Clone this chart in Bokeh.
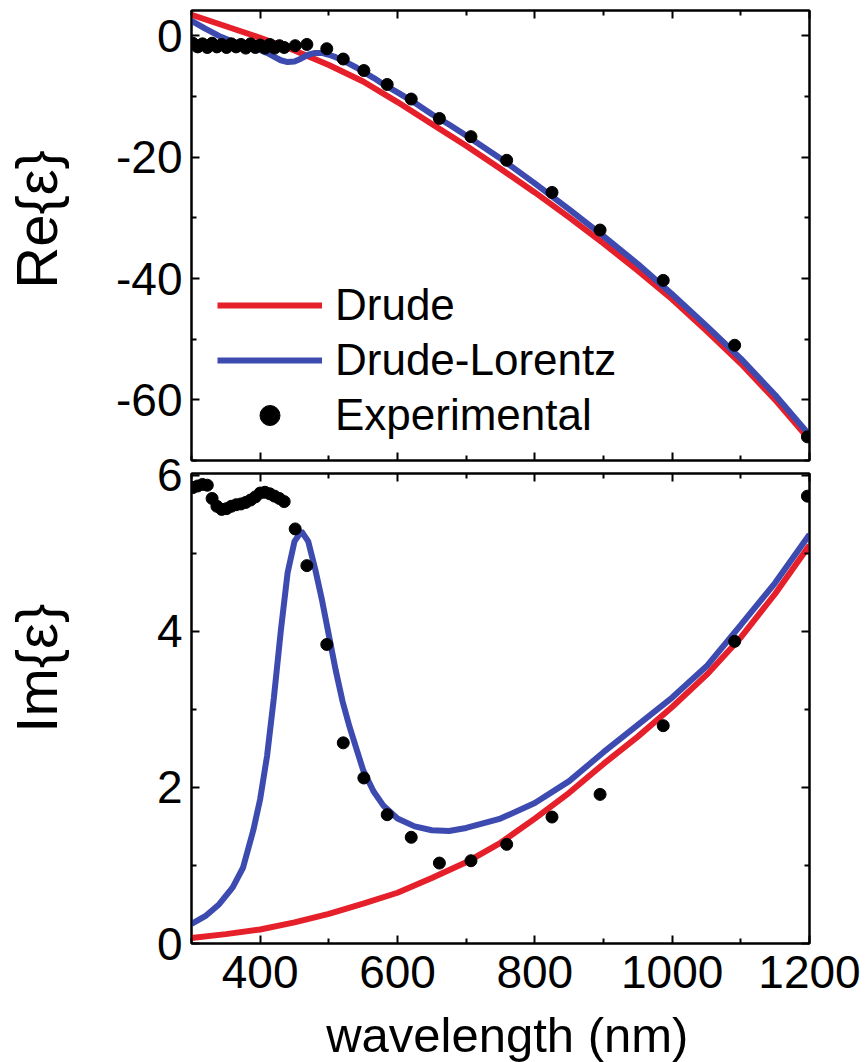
from bokeh.plotting import figure
from bokeh.layouts import column
from bokeh.models import (LinearAxis, Range1d, Legend, LegendItem, FixedTicker,
                          CustomLabelingPolicy)
from bokeh.embed import file_html
from bokeh.resources import INLINE

# ---------------- data ----------------
# Drude model
wl_drude = [300, 350, 400, 450, 500, 550, 600, 650, 700, 750, 800,
            850, 900, 950, 1000, 1050, 1100, 1150, 1200]
re_drude = [3.5, 1.6, -0.3, -2.4, -4.8, -7.5, -10.9, -14.5, -18.1, -21.9, -25.8,
            -29.9, -34.2, -38.7, -43.4, -48.6, -54.0, -60.0, -66.6]
im_drude = [0.07, 0.12, 0.18, 0.27, 0.38, 0.51, 0.65, 0.84, 1.04, 1.29, 1.60,
            1.93, 2.30, 2.65, 3.03, 3.44, 3.92, 4.48, 5.10]

# Drude-Lorentz model
wl_dl = [300, 320, 340, 360, 375, 390, 400, 410, 420, 430, 440, 450, 460, 470,
         480, 490, 500, 510, 520, 530, 540, 550, 565, 580, 600, 625, 650, 675,
         700, 750, 800, 850, 900, 950, 1000, 1050, 1100, 1150, 1200]
re_dl = [2.5, 1.2, 0.0, -0.9, -1.4, -1.9, -2.3, -2.8, -3.4, -4.0, -4.3, -4.2, -3.7, -3.1,
         -2.8, -2.8, -3.1, -3.5, -4.0, -4.6, -5.2, -5.9, -6.9, -8.0, -9.3, -11.0, -12.9, -14.6,
         -16.4, -20.2, -24.3, -28.6, -33.0, -37.6, -42.6, -47.8, -53.2, -59.2, -65.8]
im_dl = [0.25, 0.35, 0.50, 0.72, 0.97, 1.45, 1.85, 2.40, 3.15, 4.00, 4.75, 5.15, 5.28, 5.15,
         4.80, 4.40, 3.95, 3.50, 3.10, 2.78, 2.50, 2.22, 1.95, 1.76, 1.60, 1.50, 1.45, 1.44,
         1.48, 1.60, 1.80, 2.08, 2.45, 2.80, 3.15, 3.55, 4.08, 4.62, 5.24]

# Experimental
wl_exp = [302, 309, 316, 323, 330, 337, 344, 351, 358, 365, 372, 379, 386, 393,
          400, 407, 414, 421, 428, 435, 451, 468, 497, 521, 551, 585, 620, 661,
          707, 759, 825, 895, 987, 1091, 1197]
re_exp = [-1.2, -1.8, -1.3, -1.9, -1.2, -1.8, -1.4, -1.9, -1.3, -1.8, -1.4, -2.0, -1.3, -1.9,
          -1.5, -2.0, -1.4, -2.0, -1.6, -1.9, -1.6, -1.4, -2.1, -3.8, -5.7, -8.0, -10.4, -13.6,
          -16.6, -20.5, -25.8, -32.0, -40.3, -51.0, -66.1]
im_exp = [5.84, 5.86, 5.88, 5.87, 5.70, 5.60, 5.56, 5.57, 5.60, 5.62, 5.63, 5.65, 5.68, 5.72,
          5.77, 5.78, 5.76, 5.73, 5.70, 5.66, 5.31, 4.84, 3.83, 2.57, 2.12, 1.65, 1.36, 1.03,
          1.06, 1.27, 1.62, 1.91, 2.79, 3.87, 5.73]

x_major = [400, 600, 800, 1000, 1200]
x_minor = [300, 500, 700, 900, 1100]
re_major = [-60, -40, -20, 0]
re_minor = [-70, -50, -30, -10]
im_major = [0, 2, 4, 6]
im_minor = [1, 3, 5]

# ---------------- styling ----------------
FONT = "Liberation Sans"
RED = "#E5202B"
BLUE = "#3D4BB0"
LW = 6
MS = 12
TICK_FS = "46px"
YLAB_FS = "58px"
NB = "\u00a0"   # non-breaking space used to nudge the axis titles

HIDE_CODE = "for (const i of indices) { indices.unset(i) }\nreturn indices"


def style_axis(ax, major, minor, labels=True, standoff=9):
    ax.ticker = FixedTicker(ticks=major, minor_ticks=minor)
    ax.axis_line_color = "black"
    ax.axis_line_width = 2
    ax.major_tick_line_color = "black"
    ax.major_tick_line_width = 2
    ax.minor_tick_line_color = "black"
    ax.minor_tick_line_width = 2
    ax.major_tick_in = 8
    ax.major_tick_out = 0
    ax.minor_tick_in = 5
    ax.minor_tick_out = 0
    ax.major_label_text_font = FONT
    ax.major_label_text_color = "black"
    ax.axis_label_text_font = FONT
    ax.axis_label_text_font_style = "normal"
    ax.axis_label_text_color = "black"
    if labels:
        ax.major_label_text_font_size = TICK_FS
        ax.major_label_standoff = standoff
        ax.major_label_overrides = {t: str(t) for t in major}
    else:
        ax.major_label_text_font_size = "1px"
        ax.major_label_standoff = 0
        ax.major_label_policy = CustomLabelingPolicy(code=HIDE_CODE)


def make_fig(height, yr, top, bottom, **kw):
    p = figure(frame_width=618, frame_height=height,
               x_range=Range1d(300, 1200), y_range=yr,
               output_backend="svg", toolbar_location=None,
               min_border_left=191, min_border_right=56,
               min_border_top=top, min_border_bottom=bottom, **kw)
    p.xgrid.visible = False
    p.ygrid.visible = False
    p.outline_line_color = "black"
    p.outline_line_width = 2
    p.background_fill_color = "white"
    return p


# ---------------- top panel: Re ----------------
p1 = make_fig(450, Range1d(-70, 4.2), 10, 5)
p1.border_fill_color = "white"
r1 = p1.line(wl_drude, re_drude, line_color=RED, line_width=LW)
r2 = p1.line(wl_dl, re_dl, line_color=BLUE, line_width=LW)
r3 = p1.scatter(wl_exp, re_exp, size=MS, fill_color="black", line_color="black")

style_axis(p1.xaxis[0], x_major, x_minor, labels=False)
style_axis(p1.yaxis[0], re_major, re_minor, labels=True)
p1.yaxis[0].axis_label = NB * 2 + "Re{ε}"
p1.yaxis[0].axis_label_text_font_size = YLAB_FS
p1.yaxis[0].axis_label_standoff = 44
ax_top1 = LinearAxis()
style_axis(ax_top1, x_major, x_minor, labels=False)
p1.add_layout(ax_top1, "above")
ax_right1 = LinearAxis()
style_axis(ax_right1, re_major, re_minor, labels=False)
p1.add_layout(ax_right1, "right")

legend = Legend(items=[LegendItem(label="Drude", renderers=[r1]),
                       LegendItem(label="Drude-Lorentz", renderers=[r2]),
                       LegendItem(label="Experimental", renderers=[r3])],
                location=(26, 20))
legend.border_line_color = None
legend.background_fill_alpha = 0
legend.label_text_font = FONT
legend.label_text_font_size = "44px"
legend.label_text_color = "black"
legend.glyph_width = 105
legend.glyph_height = 50
legend.label_height = 50
legend.label_standoff = 13
legend.spacing = 5
legend.padding = 0
legend.margin = 0
p1.add_layout(legend)

# ---------------- bottom panel: Im ----------------
p2 = make_fig(470, Range1d(0, 6.02), 28, 110, margin=(-20, 0, 0, 0))
p2.border_fill_color = None
p2.line(wl_drude, im_drude, line_color=RED, line_width=LW)
p2.line(wl_dl, im_dl, line_color=BLUE, line_width=LW)
p2.scatter(wl_exp, im_exp, size=MS, fill_color="black", line_color="black")

style_axis(p2.xaxis[0], x_major, x_minor, labels=True, standoff=12)
p2.xaxis[0].axis_label = NB + "wavelength (nm)"
p2.xaxis[0].axis_label_text_font_size = "49px"
p2.xaxis[0].axis_label_standoff = 17
style_axis(p2.yaxis[0], im_major, im_minor, labels=True)
p2.yaxis[0].axis_label = NB * 5 + "Im{ε}"
p2.yaxis[0].axis_label_text_font_size = YLAB_FS
p2.yaxis[0].axis_label_standoff = 85
ax_top2 = LinearAxis()
style_axis(ax_top2, x_major, x_minor, labels=False)
p2.add_layout(ax_top2, "above")
ax_right2 = LinearAxis()
style_axis(ax_right2, im_major, im_minor, labels=False)
p2.add_layout(ax_right2, "right")

layout = column(p1, p2, spacing=0)
open("out.html", "w").write(file_html(layout, INLINE))
